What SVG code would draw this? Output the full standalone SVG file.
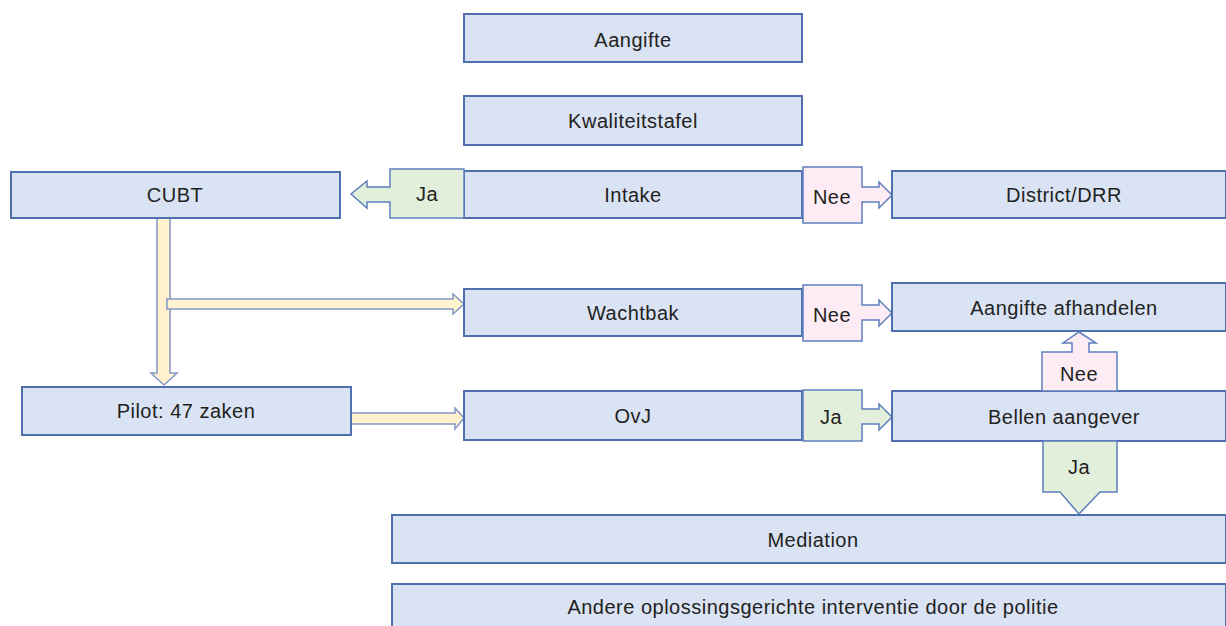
<svg xmlns="http://www.w3.org/2000/svg" width="1226" height="626" viewBox="0 0 1226 626">
<style>
.box{fill:#dae3f3;stroke:#4f6fae;stroke-width:2}
.ja{fill:#e2efda;stroke:#5f7fbf;stroke-width:1.5}
.nee{fill:#fdecf3;stroke:#5f7fbf;stroke-width:1.5}
.yel{fill:#fff2cc;stroke:#8497c8;stroke-width:1.5}
text{font-family:"Liberation Sans",Arial,sans-serif;font-size:20px;letter-spacing:0.5px;fill:#222;text-anchor:middle;dominant-baseline:central}
</style>
<rect width="1226" height="626" fill="#fff"/>
<g id="connectors">
<path class="yel" d="M157,218 V373 H151 L164,385 L177,373 H170 V218 Z"/>
<path class="yel" d="M167,299 H453 V294 L464,304 L453,314 V309 H167 Z"/>
<path class="yel" d="M351,413 H455 V408 L464,418 L455,429 V424 H351 Z"/>
</g>
<g id="aangifte"><rect class="box" x="464" y="14" width="338" height="48"/><text x="633" y="40">Aangifte</text></g>
<g id="kwaliteitstafel"><rect class="box" x="464" y="96" width="338" height="49"/><text x="633" y="121">Kwaliteitstafel</text></g>
<g id="cubt"><rect class="box" x="11" y="172" width="329" height="46"/><text x="175" y="195">CUBT</text></g>
<g id="intake"><rect class="box" x="464" y="171" width="338" height="47"/><text x="633" y="195">Intake</text></g>
<g id="ja-intake"><path class="ja" d="M464,169 V218 H390 V202 H367 V208 L351,194 L367,181 V187 H390 V169 Z"/><text x="427" y="194">Ja</text></g>
<g id="nee-intake"><path class="nee" d="M803,167 H862 V187 H879 V182 L892,195 L879,208 V202 H862 V223 H803 Z"/><text x="832" y="197">Nee</text></g>
<g id="district"><rect class="box" x="892" y="171" width="334" height="47"/><text x="1064" y="195">District/DRR</text></g>
<g id="wachtbak"><rect class="box" x="464" y="289" width="338" height="47"/><text x="633" y="313">Wachtbak</text></g>
<g id="nee-wachtbak"><path class="nee" d="M803,285 H862 V305 H879 V300 L892,313 L879,326 V320 H862 V341 H803 Z"/><text x="832" y="315">Nee</text></g>
<g id="afhandelen"><rect class="box" x="892" y="283" width="334" height="48"/><text x="1064" y="308">Aangifte afhandelen</text></g>
<g id="pilot"><rect class="box" x="22" y="387" width="329" height="48"/><text x="186" y="411">Pilot: 47 zaken</text></g>
<g id="ovj"><rect class="box" x="464" y="391" width="338" height="49"/><text x="633" y="416">OvJ</text></g>
<g id="ja-ovj"><path class="ja" d="M803,390 H862 V409 H879 V404 L892,417 L879,430 V424 H862 V441 H803 Z"/><text x="831" y="417">Ja</text></g>
<g id="bellen"><rect class="box" x="892" y="391" width="334" height="50"/><text x="1064" y="417">Bellen aangever</text></g>
<g id="nee-bellen"><path class="nee" d="M1042,391 V352 H1072 V343 H1063 L1079,332 L1096,343 H1089 V352 H1117 V391 Z"/><text x="1079" y="374">Nee</text></g>
<g id="ja-bellen"><path class="ja" d="M1043,441 H1117 V492 H1100 L1079,514 L1060,492 H1043 Z"/><text x="1079" y="467">Ja</text></g>
<g id="mediation"><rect class="box" x="392" y="515" width="834" height="48"/><text x="813" y="540">Mediation</text></g>
<g id="andere"><rect class="box" x="392" y="584" width="834" height="48"/><text x="813" y="607">Andere oplossingsgerichte interventie door de politie</text></g>
</svg>
